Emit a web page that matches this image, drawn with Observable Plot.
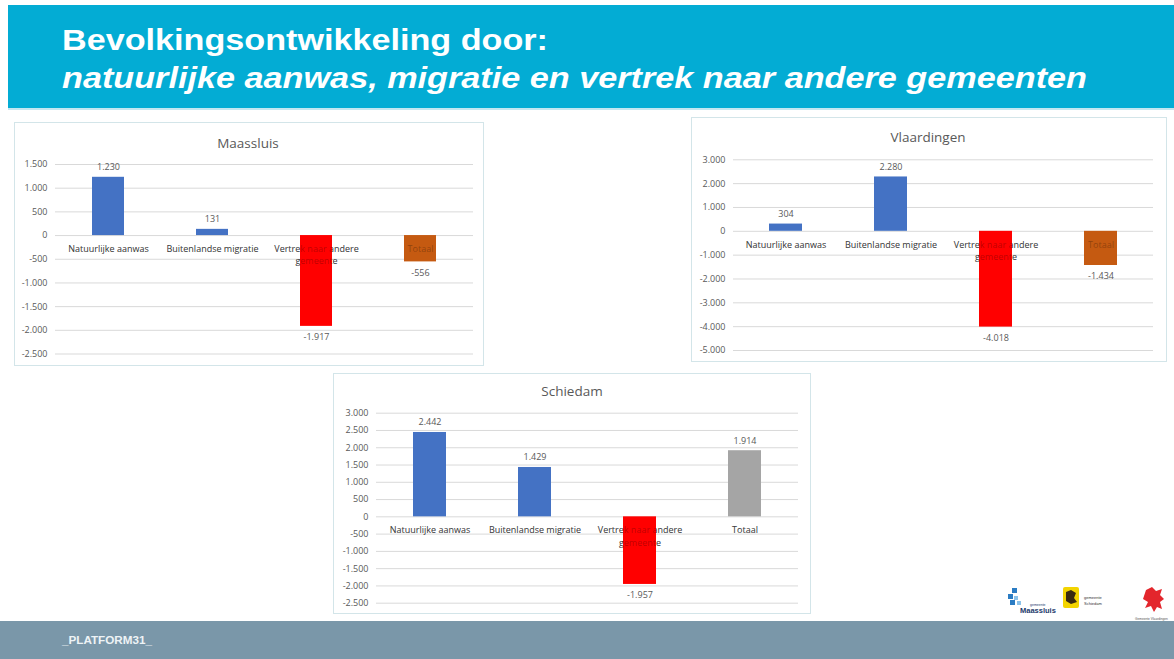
<!DOCTYPE html>
<html><head><meta charset="utf-8">
<script src="https://cdn.jsdelivr.net/npm/d3@7"></script>
<script src="https://cdn.jsdelivr.net/npm/@observablehq/plot@0.6"></script>
<style>
html,body{margin:0;padding:0;background:#fff;width:1174px;height:659px;overflow:hidden;font-family:"Open Sans",sans-serif;}
.wrap{position:absolute;}
.wrap svg.plot{position:absolute;left:0;top:0;}
.frame{position:absolute;left:0;top:0;right:0;bottom:0;box-sizing:border-box;border:1px solid #d3e5e9;pointer-events:none;}
.ctitle{position:absolute;transform:translate(-50%,-50%);font-size:13.5px;color:#595959;font-family:"Open Sans";white-space:nowrap;}
</style></head><body>
<svg id="bg" width="1174" height="659" style="position:absolute;left:0;top:0">
  <rect x="8" y="5" width="1166" height="103" fill="#03ACD4"/>
  <rect x="8" y="108" width="1166" height="2" fill="#c3e7f1"/>
  <text x="62" y="50" font-family="Liberation Sans" font-weight="bold" font-size="30" fill="#fff" textLength="486" lengthAdjust="spacingAndGlyphs">Bevolkingsontwikkeling door:</text>
  <text x="62" y="88" font-family="Liberation Sans" font-weight="bold" font-style="italic" font-size="30" fill="#fff" textLength="1025" lengthAdjust="spacingAndGlyphs">natuurlijke aanwas, migratie en vertrek naar andere gemeenten</text>
  <rect x="0" y="621" width="1174" height="38" fill="#7A97A9"/>
  <text x="62" y="644" font-family="Liberation Sans" font-weight="bold" font-size="11" fill="#eef3f6" textLength="90" lengthAdjust="spacingAndGlyphs">_PLATFORM31_</text>
  <!-- logos -->
  <g>
    <rect x="1012" y="588" width="5" height="5" fill="#2b7cc3"/>
    <rect x="1008" y="594" width="5" height="5" fill="#2b7cc3"/>
    <rect x="1014" y="596" width="4" height="4" fill="#8cc3ea"/>
    <rect x="1010" y="600" width="5" height="5" fill="#2b7cc3"/>
    <rect x="1017" y="601" width="4" height="4" fill="#8cc3ea"/>
    <text x="1030" y="606" font-family="Liberation Sans" font-size="3.5" fill="#1d3a6b">gemeente</text>
    <text x="1020" y="613" font-family="Liberation Sans" font-weight="bold" font-size="7.5" fill="#1d3a6b">Maassluis</text>
    <rect x="1063" y="587" width="16" height="21" rx="2" fill="#f3d400"/>
    <path d="M1066,592 l5,-2 l5,3 l-2,5 l3,4 l-6,2 l-5,-3 z" fill="#3a2a10"/>
    <text x="1084" y="599" font-family="Liberation Sans" font-size="4" fill="#333">gemeente</text>
    <text x="1084" y="605" font-family="Liberation Sans" font-size="4" fill="#333">Schiedam</text>
    <path d="M1146,590 l6,-3 l4,4 l6,-2 l-2,6 l4,4 l-4,3 l2,7 l-5,-2 l-3,5 l-3,-6 l-6,2 l3,-6 l-5,-3 z" fill="#e3262c"/>
    <text x="1135" y="620" font-family="Liberation Sans" font-size="3.2" fill="#555">Gemeente Vlaardingen</text>
  </g>
</svg>
<div id="charts"></div>
<script>
// ---- data ----
const categories = ["Natuurlijke aanwas", "Buitenlandse migratie", "Vertrek naar andere gemeente", "Totaal"];
const maassluisValues = [1230, 131, -1917, -556];
const vlaardingenValues = [304, 2280, -4018, -1434];
const schiedamValues = [2442, 1429, -1957, 1914];
const maassluisTicks = [-2500, -2000, -1500, -1000, -500, 0, 500, 1000, 1500];
const vlaardingenTicks = [-5000, -4000, -3000, -2000, -1000, 0, 1000, 2000, 3000];
const schiedamTicks = [-2500, -2000, -1500, -1000, -500, 0, 500, 1000, 1500, 2000, 2500, 3000];

// ---- styles ----
const BLUE = "#4472C4", RED = "#FF0000", ORANGE = "#C55A11", GREY = "#A5A5A5";
const maassluisColors = [BLUE, BLUE, RED, ORANGE];
const vlaardingenColors = [BLUE, BLUE, RED, ORANGE];
const schiedamColors = [BLUE, BLUE, RED, GREY];

const nl = d3.formatLocale({decimal: ",", thousands: ".", grouping: [3], currency: ["€", ""], minus: "-"});
const fmt = nl.format(",d");
const TXT = "#595959";

function drawChart(cfg) {
  const data = categories.map((c, i) => ({cat: c, value: cfg.values[i], color: cfg.colors[i]}));
  const catOpts = {x: "cat", y: () => 0, text: "cat", dy: 8, lineAnchor: "top", lineWidth: 11.5, lineHeight: 1.35, fontSize: 9};
  const chart = Plot.plot({
    width: cfg.w, height: cfg.h,
    marginTop: cfg.mt, marginBottom: cfg.mb, marginLeft: cfg.ml, marginRight: cfg.mr,
    style: {fontFamily: "Open Sans", background: "white", color: TXT, overflow: "visible"},
    x: {domain: categories, paddingInner: 0.69, paddingOuter: 0.345, axis: null},
    y: {domain: [d3.min(cfg.ticks), d3.max(cfg.ticks)]},
    color: {type: "identity"},
    marks: [
      Plot.gridY(cfg.ticks, {stroke: "#d9d9d9", strokeOpacity: 1}),
      Plot.axisY(cfg.ticks, {tickFormat: fmt, tickSize: 0, tickPadding: 8, fontSize: 9, fill: TXT, label: null}),
      Plot.text(data, {...catOpts, fill: TXT}),
      Plot.barY(data, {x: "cat", y1: () => 0, y2: "value", fill: "color"}),
      Plot.text(data, {...catOpts, fill: "#000", fillOpacity: 0.28}),
      Plot.text(data.filter(d => d.value >= 0), {x: "cat", y: "value", text: d => fmt(d.value), dy: -10, fontSize: 9, fill: TXT}),
      Plot.text(data.filter(d => d.value < 0), {x: "cat", y: "value", text: d => fmt(d.value), dy: 11, fontSize: 9, fill: TXT})
    ]
  });
  chart.classList.add("plot");
  const wrap = document.createElement("div");
  wrap.className = "wrap";
  Object.assign(wrap.style, {left: cfg.left + "px", top: cfg.top + "px", width: cfg.w + "px", height: cfg.h + "px"});
  wrap.appendChild(chart);
  const t = document.createElement("div");
  t.className = "ctitle";
  t.textContent = cfg.title;
  t.style.left = cfg.tx + "px";
  t.style.top = cfg.ty + "px";
  wrap.appendChild(t);
  const f = document.createElement("div");
  f.className = "frame";
  wrap.appendChild(f);
  document.getElementById("charts").appendChild(wrap);
}

drawChart({title: "Maassluis", values: maassluisValues, colors: maassluisColors, ticks: maassluisTicks,
  left: 14, top: 122, w: 470, h: 244, mt: 42, mb: 12.5, ml: 41, mr: 11, tx: 234, ty: 21});
drawChart({title: "Vlaardingen", values: vlaardingenValues, colors: vlaardingenColors, ticks: vlaardingenTicks,
  left: 691, top: 117, w: 476, h: 245, mt: 42.3, mb: 12, ml: 42, mr: 14, tx: 237, ty: 20});
drawChart({title: "Schiedam", values: schiedamValues, colors: schiedamColors, ticks: schiedamTicks,
  left: 333, top: 373, w: 478, h: 241, mt: 39.7, mb: 11.3, ml: 43, mr: 13, tx: 239, ty: 18});
</script>
</body></html>
